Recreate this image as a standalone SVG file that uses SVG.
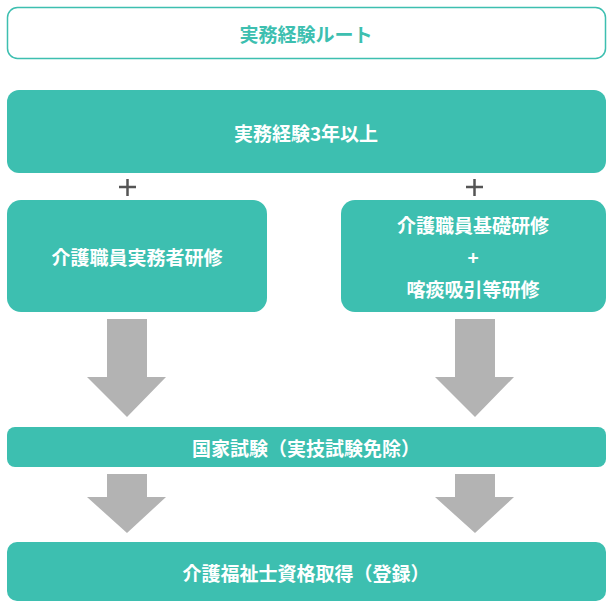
<svg xmlns="http://www.w3.org/2000/svg" width="613" height="609" viewBox="0 0 613 609">
<style>
.box{fill:#3dbfb0}
.t{font-family:"Noto Sans CJK JP",sans-serif;font-weight:bold;font-size:19px;fill:#fff;text-anchor:middle;dominant-baseline:central}
.arr{fill:#b3b3b3}
.plus{stroke:#555;stroke-width:2.5}
</style>
<rect width="613" height="609" fill="#fff"/>
<g id="title"><rect x="7.5" y="7.5" width="598" height="51" rx="10" fill="#fff" stroke="#3dbfb0" stroke-width="1.5"/><text class="t" x="306" y="33" style="fill:#3dbfb0">実務経験ルート</text></g>
<g id="n1"><rect class="box" x="7" y="90" width="599" height="83" rx="12"/><text class="t" x="306" y="132">実務経験3年以上</text></g>
<g id="n2"><rect class="box" x="7" y="200" width="260" height="112" rx="14"/><text class="t" x="137" y="256">介護職員実務者研修</text></g>
<g id="n3"><rect class="box" x="341" y="200" width="265" height="112" rx="14"/><text class="t" x="473" y="224">介護職員基礎研修</text><text class="t" x="473" y="256">+</text><text class="t" x="473" y="288">喀痰吸引等研修</text></g>
<g id="n4"><rect class="box" x="7" y="427" width="599" height="40" rx="8"/><text class="t" x="306" y="447">国家試験（実技試験免除）</text></g>
<g id="n5"><rect class="box" x="7" y="542" width="599" height="59" rx="10"/><text class="t" x="306" y="572">介護福祉士資格取得（登録）</text></g>
<g id="connectors">
<path class="plus" d="M119 187h17M127.5 179v17M466 187h17M474.5 179v17"/>
<path class="arr" d="M107 319h40v58h19l-39 40l-40-40h20z"/>
<path class="arr" d="M455 319h40v58h19l-39 40l-40-40h20z"/>
<path class="arr" d="M107 474h40v23h19l-39 36l-40-36h20z"/>
<path class="arr" d="M455 474h40v23h19l-39 36l-40-36h20z"/>
</g>
</svg>
